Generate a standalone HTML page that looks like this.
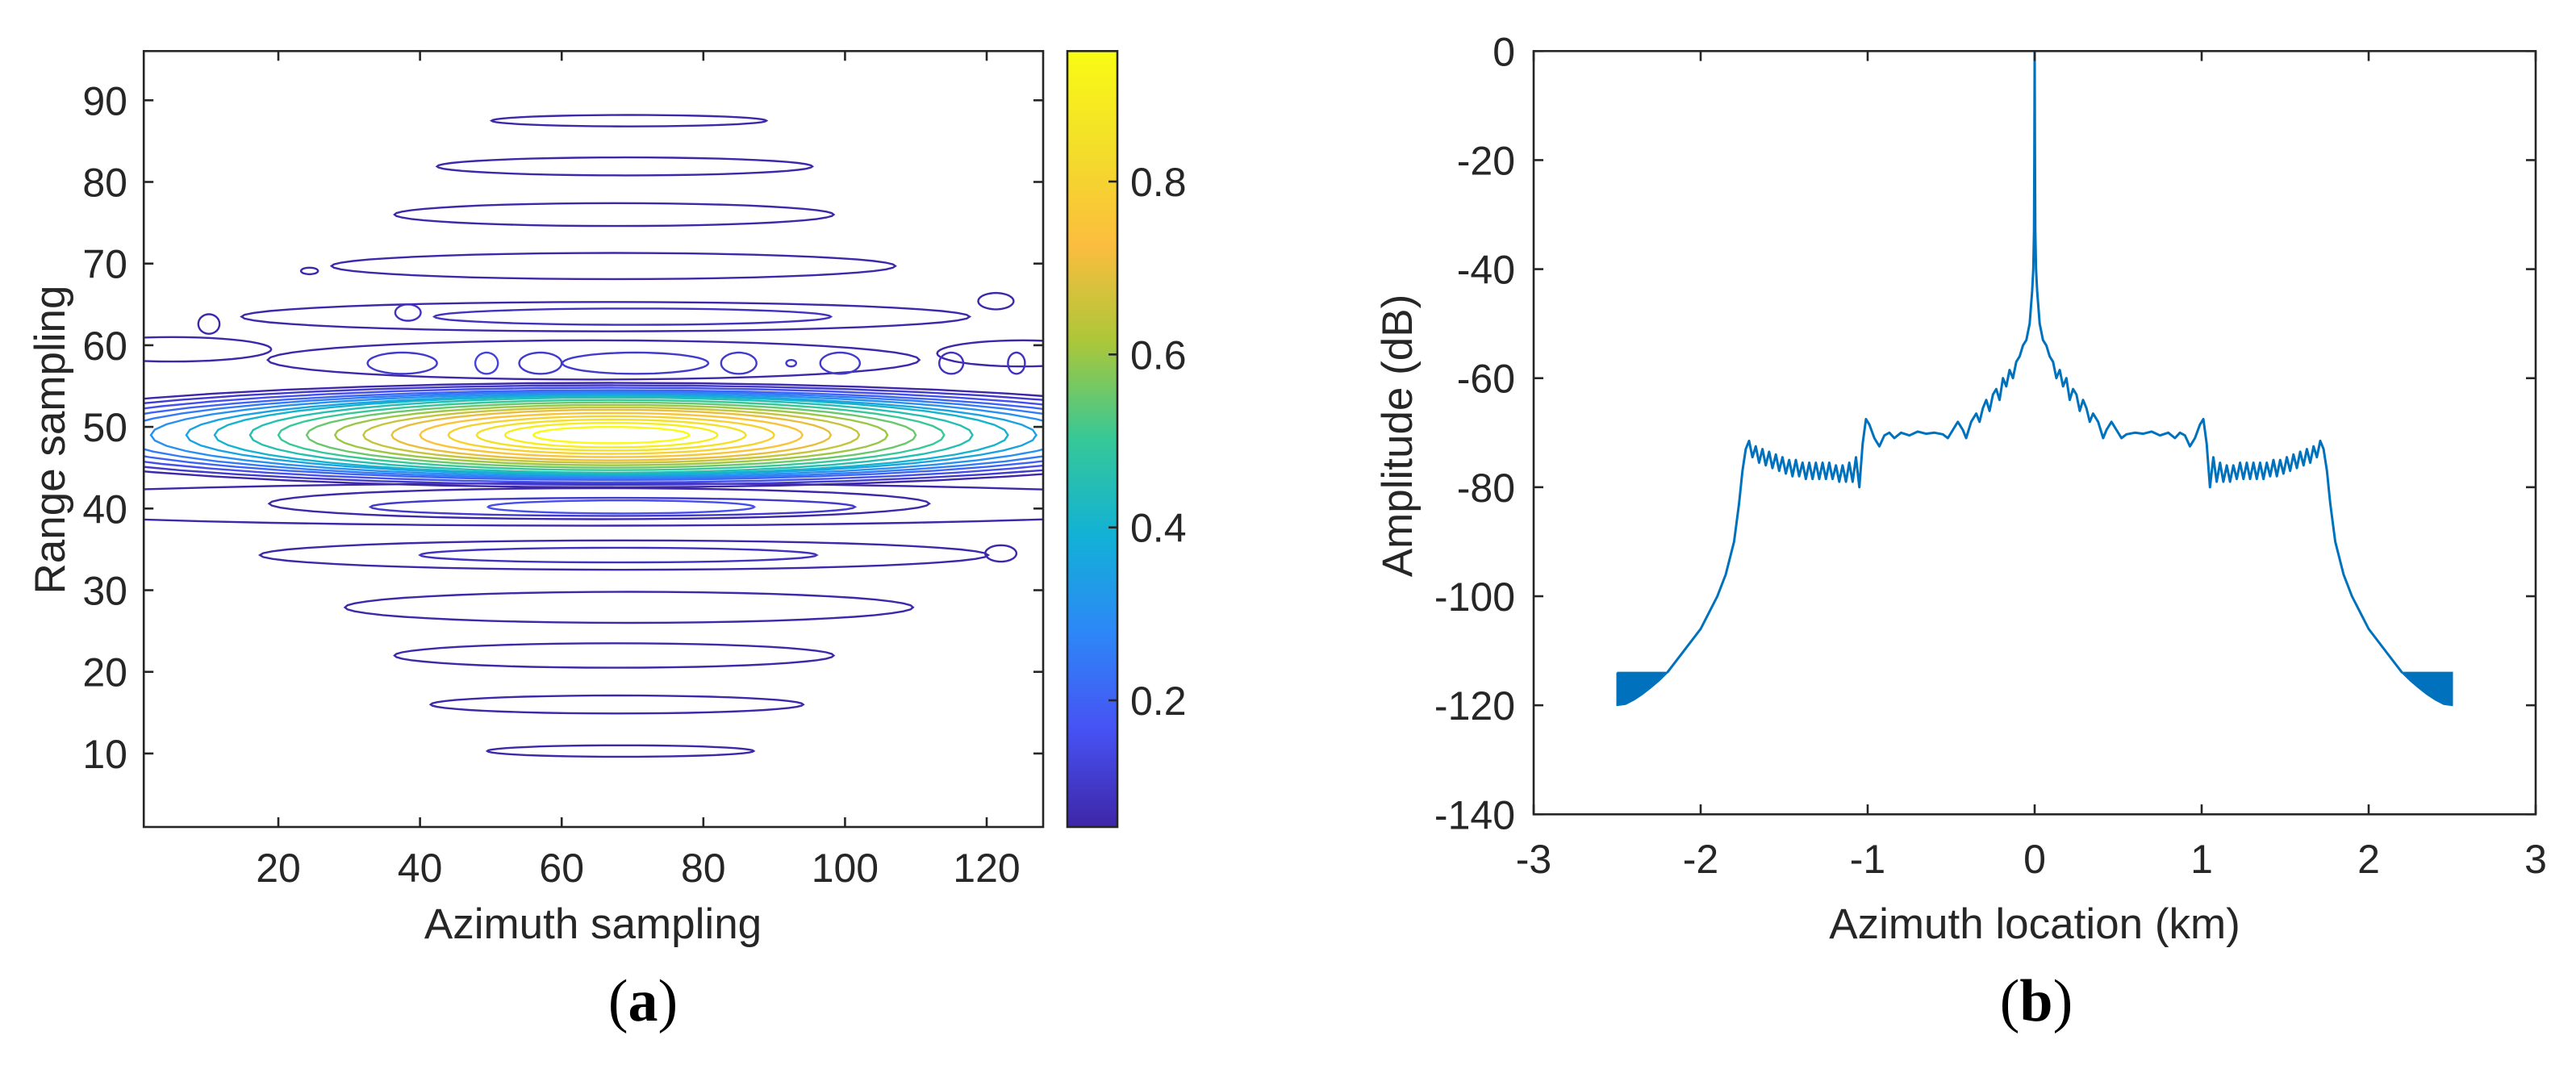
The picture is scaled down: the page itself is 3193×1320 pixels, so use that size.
<!DOCTYPE html>
<html><head><meta charset="utf-8">
<style>
html,body{margin:0;padding:0;background:#fff;}
svg{display:block;}
text{font-family:"Liberation Sans",Arial,sans-serif;fill:#262626;}
.tick{font-size:50px;}
.title{font-size:53px;}
.cap{font-family:"Liberation Serif","Times New Roman",serif;font-size:74px;fill:#000;}
</style></head>
<body>
<svg id="fig" width="3193" height="1320" viewBox="0 0 3193 1320" xmlns="http://www.w3.org/2000/svg">
<defs>
<clipPath id="clipA"><rect x="178.2" y="63.3" width="1114.8" height="961.7"/></clipPath>
<clipPath id="clipB"><rect x="1901" y="63.3" width="1242" height="946"/></clipPath>
<linearGradient id="parula" x1="0" y1="1" x2="0" y2="0">
<stop offset="0" stop-color="#3e26a8"/><stop offset="0.125" stop-color="#4752f4"/>
<stop offset="0.25" stop-color="#2d87f7"/><stop offset="0.375" stop-color="#12b1d6"/>
<stop offset="0.5" stop-color="#36c897"/><stop offset="0.625" stop-color="#abc739"/>
<stop offset="0.75" stop-color="#fcbd3e"/><stop offset="0.875" stop-color="#f3de2a"/>
<stop offset="1" stop-color="#f9fb14"/>
</linearGradient>
</defs>
<g id="panelA">
<g id="contours" clip-path="url(#clipA)"></g>
<rect x="178.2" y="63.3" width="1114.8" height="961.7" fill="none" stroke="#262626" stroke-width="2.6"/>
<g id="axA"></g>
<rect x="1323" y="63.3" width="62" height="961.7" fill="url(#parula)" stroke="#262626" stroke-width="2.6"/>
<g id="cbTicks"></g>
<text class="title" x="735" y="1163" text-anchor="middle">Azimuth sampling</text>
<text class="title" x="80" y="545" text-anchor="middle" transform="rotate(-90 80 545)">Range sampling</text>
<text class="cap" x="797" y="1265" text-anchor="middle">(<tspan font-weight="bold">a</tspan>)</text>
</g>
<g id="panelB">
<g id="curveG" clip-path="url(#clipB)"></g>
<rect x="1901" y="63.3" width="1242" height="946" fill="none" stroke="#262626" stroke-width="2.6"/>
<g id="axB"></g>
<text class="title" x="2522" y="1163" text-anchor="middle">Azimuth location (km)</text>
<text class="title" x="1750" y="540" text-anchor="middle" transform="rotate(-90 1750 540)">Amplitude (dB)</text>
<text class="cap" x="2524" y="1265" text-anchor="middle">(<tspan font-weight="bold">b</tspan>)</text>
</g>
</svg>
<script>
// ---------- Panel (a) data ----------
const aXTicks = [20, 40, 60, 80, 100, 120];
const aYTicks = [10, 20, 30, 40, 50, 60, 70, 80, 90];
const cbTicks = [0.2, 0.4, 0.6, 0.8];
const cbLabels = ["0.2", "0.4", "0.6", "0.8"];
// main lobe contour levels (center at azimuth 67, range 49)
const lobeLevels = [0.05,0.10,0.15,0.20,0.25,0.30,0.35,0.40,0.45,0.50,0.55,0.60,0.65,0.70,0.75,0.80,0.85,0.90,0.95];
const lobeHalfWidth = [92,86,80,75,70,65,60,56,51,47,43,39,35,31,27,23,19,15,11];
const lobeHalfHeight = [6.4,6.1,5.8,5.5,5.3,5.1,4.9,4.8,4.6,4.3,4.0,3.7,3.4,3.1,2.7,2.3,1.9,1.5,1.0];
const lobeCenterX = [67];
const lobeCenterY = [49];
// sidelobe closed contours
const sideCx = [69.5,68.9,67.4,67.3,24.4,66.2,70,10.2,38.3,121.3,64.5,5,125,37.5,49.4,57,70.4,85,92.4,99.3,115,124.2,64,65.3,67.2,68.4,68.8,68,69.5,67.4,67.8,68.3,122];
const sideHw = [19.4,26.5,31,39.8,1.2,51.4,28,1.5,1.8,2.5,46,14,12,4.9,1.6,3,10.3,2.5,0.7,2.8,1.7,1.2,90,46.6,34.2,18.8,51.4,28,40.1,31,26.3,18.8,2.2];
const sideCy = [87.5,81.9,76.0,69.7,69.1,63.5,63.5,62.6,64,65.4,58.2,59.5,59,57.8,57.8,57.8,57.8,57.8,57.8,57.8,57.8,57.8,40.5,40.6,40.2,40.2,34.3,34.3,27.9,22.0,16.0,10.3,34.5];
const sideHh = [0.7,1.1,1.4,1.6,0.4,1.8,1.0,1.2,1.0,1.0,2.4,1.5,1.6,1.3,1.3,1.3,1.3,1.3,0.4,1.3,1.3,1.3,2.6,1.9,1.1,0.8,1.8,0.9,1.9,1.5,1.1,0.7,1.0];
const sideLevel = [0.05,0.05,0.05,0.05,0.05,0.05,0.08,0.05,0.08,0.05,0.05,0.05,0.05,0.1,0.12,0.1,0.1,0.1,0.1,0.1,0.08,0.08,0.05,0.05,0.1,0.15,0.05,0.08,0.05,0.05,0.05,0.05,0.05];

// ---------- Panel (b) data ----------
const bXTicks = [-3,-2,-1,0,1,2,3];
const bYTicks = [0,-20,-40,-60,-80,-100,-120,-140];
const leftX = [-2.2,-2.1,-2.0,-1.9,-1.85,-1.8,-1.77,-1.75,-1.73,-1.71,-1.69,-1.67,-1.65,-1.63,-1.61,-1.59,-1.57,-1.55,-1.53,-1.51,-1.49,-1.47,-1.45,-1.43,-1.41,-1.39,-1.37,-1.35,-1.33,-1.31,-1.29,-1.27,-1.25,-1.23,-1.21,-1.19,-1.17,-1.15,-1.13,-1.11,-1.09,-1.07,-1.05,-1.03,-1.01,-0.99,-0.96,-0.93,-0.9,-0.87,-0.84,-0.8,-0.75,-0.7,-0.65,-0.6,-0.55,-0.52,-0.49,-0.46,-0.43,-0.41,-0.38,-0.35,-0.33,-0.31,-0.29,-0.27,-0.25,-0.23,-0.21,-0.19,-0.17,-0.15,-0.13,-0.11,-0.09,-0.07,-0.05,-0.03,-0.015,-0.008,-0.004,-0.002,0];
const leftY = [-114,-110,-106,-100,-96,-90,-83,-77,-73,-71.5,-74.5,-72.5,-75.5,-73,-76,-73.5,-76.5,-74,-77,-74.5,-77.5,-75,-78,-75,-78,-75.5,-78.5,-75.5,-78.5,-75.5,-78.5,-75.5,-78.5,-75.5,-78.5,-76,-79,-76,-79,-75.5,-79,-74.5,-80,-72,-67.5,-68.5,-71,-72.5,-70.5,-70,-71,-70,-70.5,-69.8,-70.2,-70,-70.3,-71,-69.5,-68,-69.5,-71,-68,-66.5,-68,-65.5,-64,-66,-63,-62,-64,-60,-61.5,-58.5,-60,-57,-56,-54,-53,-50,-44,-40,-33,-20,0];
const rightX = [0.002,0.004,0.008,0.015,0.03,0.05,0.07,0.09,0.11,0.13,0.15,0.17,0.19,0.21,0.23,0.25,0.27,0.29,0.31,0.33,0.35,0.38,0.41,0.43,0.46,0.49,0.52,0.55,0.6,0.65,0.7,0.75,0.8,0.84,0.87,0.9,0.93,0.96,0.99,1.01,1.03,1.05,1.07,1.09,1.11,1.13,1.15,1.17,1.19,1.21,1.23,1.25,1.27,1.29,1.31,1.33,1.35,1.37,1.39,1.41,1.43,1.45,1.47,1.49,1.51,1.53,1.55,1.57,1.59,1.61,1.63,1.65,1.67,1.69,1.71,1.73,1.75,1.77,1.8,1.85,1.9,2.0,2.1,2.2];
const rightY = [-20,-33,-40,-44,-50,-53,-54,-56,-57,-60,-58.5,-61.5,-60,-64,-62,-63,-66,-64,-65.5,-68,-66.5,-68,-71,-69.5,-68,-69.5,-71,-70.3,-70,-70.2,-69.8,-70.5,-70,-71,-70,-70.5,-72.5,-71,-68.5,-67.5,-72,-80,-74.5,-79,-75.5,-79,-76,-79,-76,-78.5,-75.5,-78.5,-75.5,-78.5,-75.5,-78.5,-75.5,-78.5,-75.5,-78,-75,-78,-75,-77.5,-74.5,-77,-74,-76.5,-73.5,-76,-73,-75.5,-72.5,-74.5,-71.5,-73,-77,-83,-90,-96,-100,-106,-110,-114];
const tailLX = [-2.5,-2.45,-2.4,-2.35,-2.3,-2.25,-2.2];
const tailLLow = [-120,-119.8,-119,-118,-116.8,-115.5,-114];
const tailRX = [2.2,2.25,2.3,2.35,2.4,2.45,2.5];
const tailRLow = [-114,-115.5,-116.8,-118,-119,-119.8,-120];
const tailTop = [-114];

// ---------- helpers ----------
const NS = "http://www.w3.org/2000/svg";
function mk(tag, attrs, parent){ const e=document.createElementNS(NS,tag); for(const k in attrs) e.setAttribute(k,attrs[k]); parent.appendChild(e); return e; }
const ax = v => 178.2 + (v-1)*8.78;
const ay = v => 124.3 + (90-v)*10.12;
const cy = v => 225 + (0.8-v)*1071.7;
const bx = v => 1901 + (v+3)*207;
const by = v => 63.3 - v*6.757;
const stops = [[0,[62,38,168]],[0.125,[71,82,244]],[0.25,[45,135,247]],[0.375,[18,177,214]],[0.5,[54,200,151]],[0.625,[171,199,57]],[0.75,[252,189,62]],[0.875,[243,222,42]],[1,[249,251,20]]];
function parula(v){
  let t=(v-0.048)/(0.954-0.048); t=Math.max(0,Math.min(1,t));
  for(let i=0;i<stops.length-1;i++){ if(t<=stops[i+1][0]){ const f=(t-stops[i][0])/(stops[i+1][0]-stops[i][0]); const a=stops[i][1],b=stops[i+1][1]; return `rgb(${a.map((c,j)=>Math.round(c+(b[j]-c)*f)).join(",")})`; } }
  return "rgb(249,251,20)";
}
function ellipsePath(cx,cyv,hw,hh){
  let d=""; const n=48;
  for(let i=0;i<=n;i++){ const t=i/n*2*Math.PI; const x=cx+hw*Math.cos(t); const y=cyv+hh*Math.sin(t);
    d+=(i?"L":"M")+ax(x).toFixed(1)+","+ay(y).toFixed(1); }
  return d+"Z";
}
// ---------- draw panel (a) ----------
const cg = document.getElementById("contours");
for(let i=0;i<sideCx.length;i++){
  const p = mk("path",{d:ellipsePath(sideCx[i],sideCy[i],sideHw[i],sideHh[i]),fill:"none",stroke:parula(sideLevel[i]),"stroke-width":2.4},cg);
  
  
}
for(let i=0;i<lobeLevels.length;i++){
  const p = mk("path",{d:ellipsePath(lobeCenterX[0],lobeCenterY[0],lobeHalfWidth[i],lobeHalfHeight[i]),fill:"none",stroke:parula(lobeLevels[i]),"stroke-width":2.4},cg);
  
  
}
const gA = document.getElementById("axA");
aXTicks.forEach(v=>{
  const x=ax(v);
  const t1=mk("line",{x1:x,y1:1025,x2:x,y2:1013,stroke:"#262626","stroke-width":2.6},gA);
   
  const t2=mk("line",{x1:x,y1:63.3,x2:x,y2:75.3,stroke:"#262626","stroke-width":2.6},gA);
   
  const tx=mk("text",{x:x,y:1093,"text-anchor":"middle",class:"tick"},gA); tx.textContent=v;
   
});
aYTicks.forEach(v=>{
  const y=ay(v);
  const t1=mk("line",{x1:178.2,y1:y,x2:190.2,y2:y,stroke:"#262626","stroke-width":2.6},gA);
   
  const t2=mk("line",{x1:1293,y1:y,x2:1281,y2:y,stroke:"#262626","stroke-width":2.6},gA);
   
  const tx=mk("text",{x:158,y:y+18,"text-anchor":"end",class:"tick"},gA); tx.textContent=v;
   
});
const gC = document.getElementById("cbTicks");
cbTicks.forEach((v,i)=>{
  const y=cy(v);
  const t=mk("line",{x1:1385,y1:y,x2:1374,y2:y,stroke:"#262626","stroke-width":2.6},gC);
   
  const tx=mk("text",{x:1401,y:y+18,class:"tick"},gC); tx.textContent=cbLabels[i];
   
});
// ---------- draw panel (b) ----------
const gB = document.getElementById("axB");
bXTicks.forEach(v=>{
  const x=bx(v);
  const t1=mk("line",{x1:x,y1:1009.3,x2:x,y2:997,stroke:"#262626","stroke-width":2.6},gB);
   
  const t2=mk("line",{x1:x,y1:63.3,x2:x,y2:75.6,stroke:"#262626","stroke-width":2.6},gB);
   
  const tx=mk("text",{x:x,y:1082,"text-anchor":"middle",class:"tick"},gB); tx.textContent=v;
   
});
bYTicks.forEach(v=>{
  const y=by(v);
  const t1=mk("line",{x1:1901,y1:y,x2:1913,y2:y,stroke:"#262626","stroke-width":2.6},gB);
   
  const t2=mk("line",{x1:3143,y1:y,x2:3131,y2:y,stroke:"#262626","stroke-width":2.6},gB);
   
  const tx=mk("text",{x:1878,y:y+18,"text-anchor":"end",class:"tick"},gB); tx.textContent=v;
   
});
const gS = document.getElementById("curveG");
function tailPath(xs,lows){
  let d="M"+bx(xs[0])+","+by(tailTop[0]);
  xs.forEach(x=>{ d+="L"+bx(x).toFixed(1)+","+by(tailTop[0]).toFixed(1); });
  for(let i=xs.length-1;i>=0;i--) d+="L"+bx(xs[i]).toFixed(1)+","+by(lows[i]).toFixed(1);
  return d+"Z";
}
const tl=mk("path",{d:tailPath(tailLX,tailLLow),fill:"#0072bd",stroke:"#0072bd","stroke-width":2},gS);
 
const tr=mk("path",{d:tailPath(tailRX,tailRLow),fill:"#0072bd",stroke:"#0072bd","stroke-width":2},gS);
 
const xsAll = leftX.concat(rightX), ysAll = leftY.concat(rightY);
let d="";
xsAll.forEach((x,i)=>{ d+=(i?"L":"M")+bx(x).toFixed(1)+","+by(ysAll[i]).toFixed(1); });
const line=mk("path",{d:d,fill:"none",stroke:"#0072bd","stroke-width":3,"stroke-linejoin":"round"},gS);


</script>
</body></html>
